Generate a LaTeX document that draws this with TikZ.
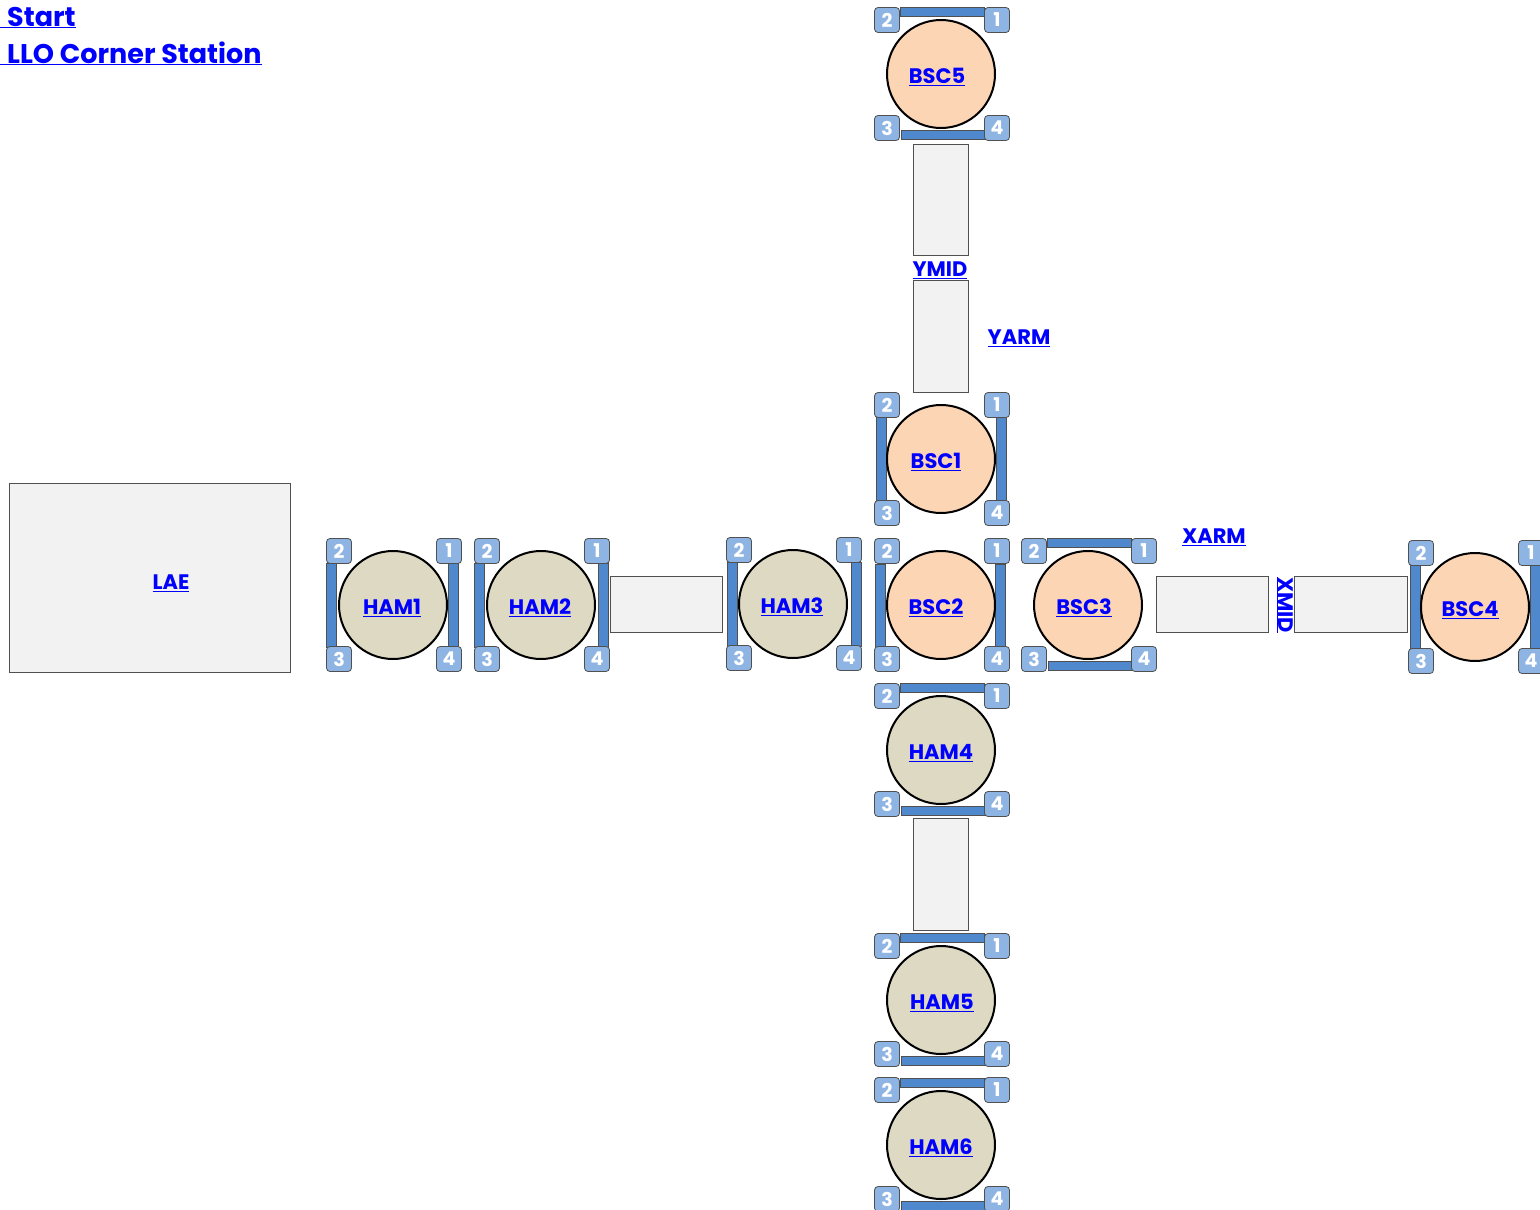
\documentclass[tikz,border=0pt]{standalone}
\usepackage{fontspec}
\setmainfont{Poppins}
\definecolor{linkblue}{RGB}{0,0,255}
\definecolor{badgefill}{RGB}{141,180,226}
\definecolor{barfill}{RGB}{79,136,204}
\definecolor{edgegray}{RGB}{80,80,80}
\definecolor{hamfill}{RGB}{221,217,195}
\definecolor{bscfill}{RGB}{252,213,180}
\definecolor{pipefill}{RGB}{242,242,242}
\tikzset{
    tank/.style={circle, draw=black, line width=2pt, minimum size=108pt, inner sep=0pt},
    badge/.style={rectangle, rounded corners=3.5pt, draw=edgegray, line width=0.8pt, fill=badgefill,
        minimum size=25pt, inner sep=0pt, text=white, font=\fontsize{19}{19}\selectfont\bfseries},
    wallbar/.style={draw=edgegray, line width=0.7pt, fill=barfill},
    pipe/.style={draw=edgegray, line width=0.7pt, fill=pipefill},
    linklabel/.style={inner sep=0pt, text=linkblue, font=\fontsize{21}{21}\selectfont\bfseries},
    cornerlabel/.style={inner sep=0pt, anchor=base west, text=linkblue, font=\fontsize{27}{27}\selectfont\bfseries}
}
% wall bars of a tank, above and below it or left and right of it
\newcommand{\hbars}[2]{
    \draw[wallbar] ({#1-41},{#2-67}) rectangle ({#1+43},{#2-58});
    \draw[wallbar] ({#1-40},{#2+56}) rectangle ({#1+44},{#2+65});
}
\newcommand{\vbars}[3]{
    \draw[wallbar] (#1,{#3-42}) rectangle ({#1+10},{#3+42});
    \draw[wallbar] (#2,{#3-42}) rectangle ({#2+10},{#3+42});
}
\newcommand{\tankwith}[6]{
    \node[tank, fill=#4] (#1) at (#2,#3) {};
    \node[linklabel] (#1-label) at ({#2+#5},{#3+3}) {\underline{#1}};
    \node[badge] (#1-2) at ({#2-54},{#3-54-#6}) {2};
    \node[badge] (#1-1) at ({#2+56},{#3-54-#6}) {1};
    \node[badge] (#1-3) at ({#2-54},{#3+54}) {3};
    \node[badge] (#1-4) at ({#2+56},{#3+54}) {4};
}

\begin{document}
\begin{tikzpicture}[x=1pt, y=-1pt]
    \useasboundingbox (0,0) rectangle (1540,1210);
    \clip (0,0) rectangle (1540,1210);

    % links in the corner
    \node[cornerlabel] (start) at (0,26) {\underline{\hspace{7pt}Start}};
    \node[cornerlabel] (corner) at (0,63) {\underline{\hspace{7pt}LLO Corner Station}};

    % pipes
    \draw[pipe] (9,483) rectangle (290.5,672.5);
    \node[linklabel] (LAE) at (171,583) {\underline{LAE}};
    \draw[pipe] (610.5,576.5) rectangle (722,632);
    \draw[pipe] (913,144) rectangle (968,255.5);
    \draw[pipe] (913.5,280) rectangle (968.5,392);
    \draw[pipe] (1156.5,576.5) rectangle (1268,632);
    \draw[pipe] (1294.5,576.5) rectangle (1407,632.5);
    \draw[pipe] (913.5,818.5) rectangle (968.5,930);

    \node[linklabel] (YMID) at (940,270) {\underline{YMID}};
    \node[linklabel] (YARM) at (1019,338) {\underline{YARM}};
    \node[linklabel] (XARM) at (1214,537) {\underline{XARM}};
    \node[linklabel, rotate=-90] (XMID) at (1285,605) {\underline{XMID}};

    % bars first, the tanks go on top
    \foreach \cx/\cy in {941/74, 1088/605, 941/750, 941/1000, 941/1145}
        \hbars{\cx}{\cy};
    \foreach \lx/\rx/\cy in {876/996/459, 326/448/605, 474/598/605, 727/851/604, 875/995/606, 1410/1530/607}
        \vbars{\lx}{\rx}{\cy};

    \foreach \name/\cx/\cy/\shift/\toprow in {HAM1/393/605/-1/0, HAM2/541/605/-1/0, HAM3/793/604/-1/0, HAM4/941/750/0/0, HAM5/941/1000/1/0, HAM6/941/1145/0/1}
        \tankwith{\name}{\cx}{\cy}{hamfill}{\shift}{\toprow};
    \foreach \name/\cx/\cy/\shift/\toprow in {BSC1/941/459/-5/0, BSC2/941/605/-5/0, BSC3/1088/605/-4/0, BSC4/1475/607/-5/0, BSC5/941/74/-4/0}
        \tankwith{\name}{\cx}{\cy}{bscfill}{\shift}{\toprow};
\end{tikzpicture}
\end{document}
